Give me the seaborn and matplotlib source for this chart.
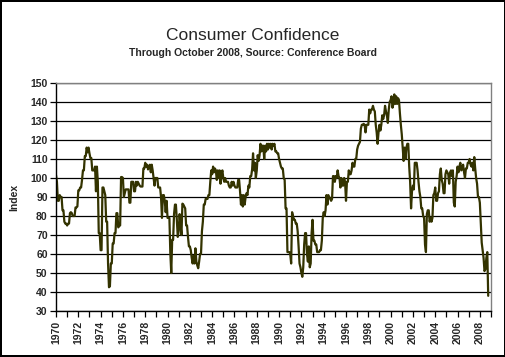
import numpy as np
import pandas as pd
import matplotlib
matplotlib.use("Agg")
import matplotlib.pyplot as plt
import seaborn as sns
from matplotlib.ticker import MultipleLocator

# monthly index values, Jan 1970 - Oct 2008
index_1970s = [
    101.5, 98, 88, 88, 91, 90, 90, 83, 83, 77, 76, 76,          # 1970
    75, 76, 76, 81.5, 82, 81.5, 80, 80, 80, 84.5, 84.5, 85,     # 1971
    93.5, 93.5, 95, 95, 99, 104, 104, 111.5, 111.5, 116, 113.5, 116,  # 1972
    113, 110.5, 110.5, 104, 104, 104, 106, 93, 106, 98, 71, 71,  # 1973
    62, 62, 95, 95, 93, 91, 77, 77, 55, 42.5, 43, 55,           # 1974
    55, 65.5, 65.5, 71, 71, 81.5, 81.5, 74, 75, 75, 100.5, 100.5,  # 1975
    100, 90, 92, 94, 94, 94, 94, 87, 87, 98, 98, 98,            # 1976
    93, 93, 98, 96, 98, 97, 96, 95.5, 95.5, 95.5, 105, 105,     # 1977
    108, 106, 107, 104.5, 106, 107, 103, 107, 104, 100, 96, 100,  # 1978
    100, 100, 95, 95, 95, 90, 79, 91, 91, 88, 82, 88,           # 1979
]
index_1980s = [
    79, 79, 79, 60.5, 50, 67.5, 67.5, 81, 86, 86, 78, 69,       # 1980
    72, 81, 75, 70, 86.5, 86, 85, 84, 75, 75, 69, 64,           # 1981
    64, 62, 58, 55, 59, 55, 63, 56, 54, 52.5, 56, 60,           # 1982
    60, 72, 77, 86, 86, 89, 89, 89, 91, 91, 98, 104,            # 1983
    102, 106, 103, 105, 104, 99, 104, 100, 104, 97, 102, 104,   # 1984
    100, 98, 100, 98, 98, 98, 96, 95, 95, 98, 96, 98,           # 1985
    96, 95, 95, 95, 99, 99, 93, 86, 91, 85, 91, 86,             # 1986
    90, 92, 91, 96, 95, 101, 101, 104.5, 113, 104, 108, 100,    # 1987
    104, 112, 109, 112, 118, 114, 117, 117, 110, 117, 114, 118,  # 1988
    115, 118, 116, 118, 115, 118, 117, 118, 114, 114, 113, 113,  # 1989
]
index_1990s = [
    110, 108, 106, 105, 105, 100, 99, 84, 84, 61, 61, 61,       # 1990
    60, 55, 82, 80, 78, 78, 76, 76, 72, 64, 55, 53,             # 1991
    50, 48, 53, 65, 71, 71, 60, 56, 64, 53, 55, 71,             # 1992
    78, 67, 67, 65, 65, 61, 61, 61, 62, 62, 67, 79,             # 1993
    82, 80, 83, 91, 86, 91, 90, 89, 88, 89, 101, 101,           # 1994
    98, 101, 100, 104, 101, 100, 95, 100, 96, 96, 100, 98,      # 1995
    88, 98, 98, 104, 102, 102, 104, 108, 106, 106, 110, 110,    # 1996
    115, 117, 118, 119, 126, 128, 128, 128.5, 128, 124, 128, 128,  # 1997
    128, 136, 134, 136, 136, 138, 136, 135, 128, 124, 118, 124,  # 1998
    128, 125, 128, 133, 131, 133, 138, 135, 133, 129, 136, 140,  # 1999
]
index_2000s = [
    141, 143, 137, 139, 144, 139, 143, 139, 142, 141, 134, 128,  # 2000
    123, 116, 109, 116, 110, 116, 118, 118, 106, 98, 84, 93,    # 2001
    96, 94, 108, 108, 108, 104, 98, 93, 90, 84, 84, 80,         # 2002
    79, 65, 61, 81, 83, 83, 77, 79, 77, 79, 91, 92,             # 2003
    95, 88, 88, 92, 93, 102, 105, 99, 97, 92, 92, 102,          # 2004
    104, 103, 102, 97, 103, 104, 101, 104, 87, 85, 98, 101,     # 2005
    106, 103, 106, 108, 104, 105, 107, 103, 100, 105, 105, 108,  # 2006
    108, 110, 107, 106, 108, 104, 111, 105, 100, 97, 90, 90,    # 2007
    87, 76, 66, 62, 58, 51, 52, 58, 61, 38,                     # 2008 (Jan-Oct)
]

values = index_1970s + index_1980s + index_1990s + index_2000s
df = pd.DataFrame({"index": values})
df["year"] = 1970 + np.arange(len(df)) / 12.0

sns.set_theme(style="white")
plt.rcParams["font.family"] = ["Liberation Sans", "DejaVu Sans"]

fig = plt.figure(figsize=(5.06, 3.57), dpi=100, facecolor="white",
                 edgecolor="black", linewidth=1.5)
ax = fig.add_axes([56 / 506, 46 / 357, 435 / 506, 228 / 357])

sns.lineplot(data=df, x="year", y="index", ax=ax, color="#333300",
             linewidth=1.6)

ax.set_xlim(1970, 2009)
ax.set_ylim(30, 150)
ax.yaxis.set_major_locator(MultipleLocator(10))
ax.xaxis.set_major_locator(MultipleLocator(2))
ax.xaxis.set_minor_locator(MultipleLocator(1))
ax.grid(axis="y", color="black", linewidth=0.9)
ax.set_axisbelow(True)

for side in ["top", "right"]:
    ax.spines[side].set_color("#808080")
    ax.spines[side].set_linewidth(1.0)
for side in ["left", "bottom"]:
    ax.spines[side].set_color("black")
    ax.spines[side].set_linewidth(1.0)

ax.tick_params(axis="both", which="both", direction="out", color="black",
               bottom=True, left=True, width=0.9)
ax.tick_params(axis="x", which="major", length=4, labelsize=7.5, pad=3)
ax.tick_params(axis="x", which="minor", length=4)
ax.tick_params(axis="y", which="major", length=4, labelsize=7.5, pad=2)
ax.set_xticks(range(1970, 2009, 2))
ax.set_xticklabels([str(y) for y in range(1970, 2009, 2)], rotation=90,
                   fontweight="bold")
for lbl in ax.get_yticklabels():
    lbl.set_fontweight("bold")

ax.set_xlabel("")
ax.set_ylabel("Index", fontsize=7.5, fontweight="bold", labelpad=8)

fig.text(0.5, 1 - 35 / 357, "Consumer Confidence", ha="center", va="center",
         fontsize=12.5)
fig.text(0.5, 1 - 53 / 357, "Through October 2008, Source: Conference Board",
         ha="center", va="center", fontsize=7.5, fontweight="bold")

fig.savefig("out.png", dpi=100, facecolor="white", edgecolor="black")
